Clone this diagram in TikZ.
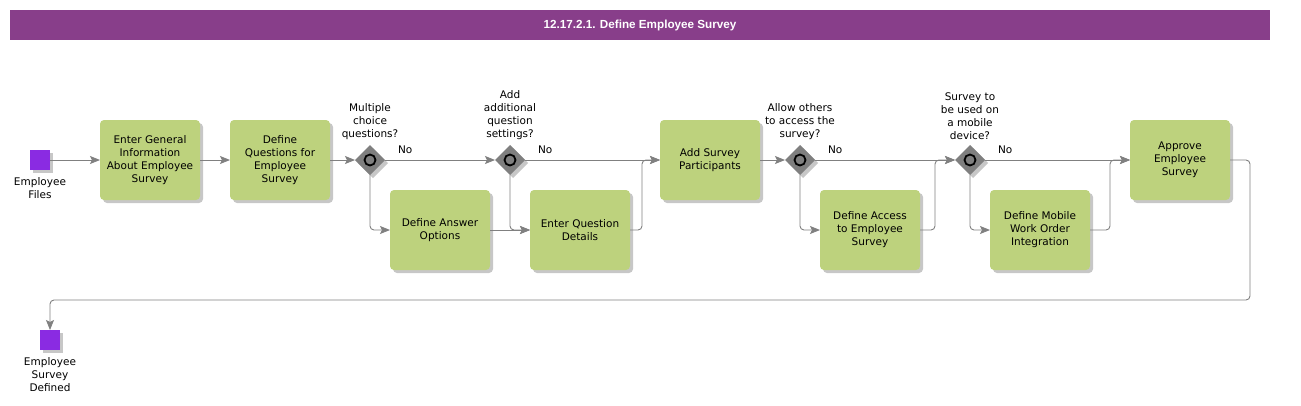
\documentclass[tikz,border=0pt]{standalone}
\usepackage{fontspec}
\setmainfont{DejaVu Sans}
\newfontfamily\bandfont{Liberation Sans}
\usetikzlibrary{arrows.meta,positioning,shapes.geometric,shadows}
\definecolor{band}{HTML}{883E8A}
\definecolor{taskgreen}{HTML}{BDD27D}
\definecolor{evpurple}{HTML}{8A2BE2}
\definecolor{wire}{HTML}{808080}
\definecolor{gategray}{HTML}{7F7F7F}

\begin{document}
\begin{tikzpicture}[x=1pt, y=-1pt,
  every node/.style={font=\fontsize{10.5}{13}\selectfont, inner sep=0pt, outer sep=0pt},
  shade/.style={drop shadow={shadow xshift=3pt, shadow yshift=-3pt, fill=black, opacity=0.22}},
  task/.style={shade, fill=taskgreen, rounded corners=4pt, align=center,
               minimum width=100pt, minimum height=80pt},
  event/.style={shade, fill=evpurple, minimum size=20pt},
  gate/.style={shade, diamond, fill=gategray, minimum size=30pt,
               path picture={\draw[line width=1.8pt, fill=gategray]
                 (path picture bounding box.center) circle[radius=5.5pt];}},
  qlab/.style={align=center},
  flow/.style={draw=wire, line width=0.9pt, rounded corners=4pt,
               -{Stealth[length=10pt, width=8pt, inset=2pt]}}
]
\useasboundingbox (0,0) rectangle (1301,405);

% title band
\node[fill=band, minimum width=1260pt, minimum height=30pt, text=white,
      font=\bandfont\bfseries\fontsize{11.7}{14}\selectfont] (title) at (640,25)
  {12.17.2.1. Define Employee Survey};

% main row
\node[event] (start) at (40,160) {};
\node[qlab, below=8pt of start] (startlab) {Employee\\Files};
\node[task, right=50pt of start] (general) {Enter General\\Information\\About Employee\\Survey};
\node[task, right=30pt of general] (questions) {Define\\Questions for\\Employee\\Survey};
\node[gate, right=25pt of questions] (multi) {};
\node[gate, right=110pt of multi] (settings) {};
\node[task, right=135pt of settings] (participants) {Add Survey\\Participants};
\node[gate, right=25pt of participants] (others) {};
\node[gate, right=140pt of others] (mobile) {};
\node[task, right=145pt of mobile] (approve) {Approve\\Employee\\Survey};

% lower row
\node[task, below=15pt of multi, xshift=70pt] (answers) {Define Answer\\Options};
\node[task, below=15pt of settings, xshift=70pt] (details) {Enter Question\\Details};
\node[task, below=15pt of others, xshift=70pt] (access) {Define Access\\to Employee\\Survey};
\node[task, below=15pt of mobile, xshift=70pt] (workorder) {Define Mobile\\Work Order\\Integration};

\node[event] (done) at (50,340) {};
\node[qlab, below=8pt of done] (donelab) {Employee\\Survey\\Defined};

% gateway questions
\node[qlab, above=5pt of multi] {Multiple\\choice\\questions?};
\node[qlab, above=5pt of settings] {Add\\additional\\question\\settings?};
\node[qlab, above=5pt of others] {Allow others\\to access the\\survey?};
\node[qlab, above=5pt of mobile] {Survey to\\be used on\\a mobile\\device?};
\foreach \g in {multi,settings,others,mobile}
  \node[right=13pt of \g.east, yshift=10pt] {No};

% flows
\draw[flow] (start) -- (general);
\draw[flow] (general) -- (questions);
\draw[flow] (questions) -- (multi);
\draw[flow] (multi) -- (settings);
\draw[flow] (multi.south) |- (answers);
\draw[flow] (answers) -- (details);
\draw[flow] (settings.south) |- (details);
\draw[flow] (settings) -- (participants);
\draw[flow] (details.east) -- ++(12,0) |- (participants);
\draw[flow] (participants) -- (others);
\draw[flow] (others) -- (mobile);
\draw[flow] (others.south) |- (access);
\draw[flow] (access.east) -- ++(15,0) |- (mobile);
\draw[flow] (mobile) -- (approve);
\draw[flow] (mobile.south) |- (workorder);
\draw[flow] (workorder.east) -- ++(20,0) |- (approve);
\draw[flow] (approve.east) -- ++(20,0) -- ++(0,140) -| (done);
\end{tikzpicture}
\end{document}
